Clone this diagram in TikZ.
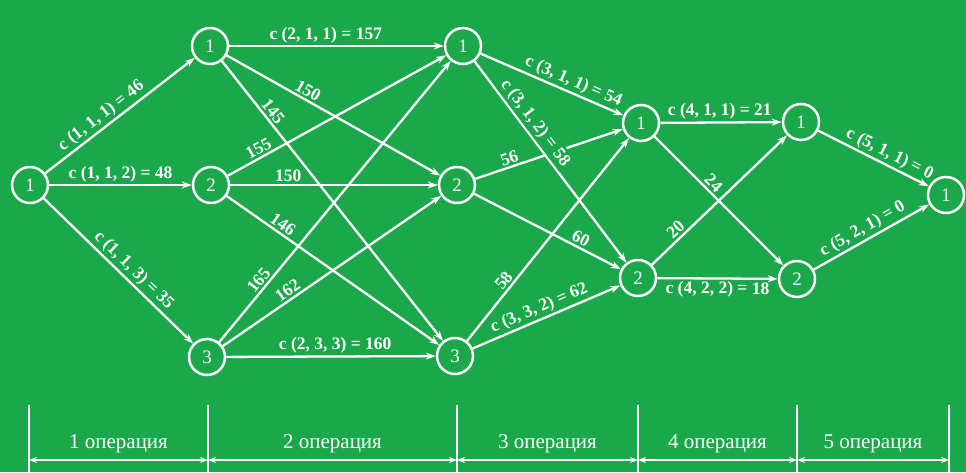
\documentclass[tikz,border=0pt]{standalone}
\usepackage{fontspec}
\setmainfont{Liberation Serif}
\usetikzlibrary{arrows.meta}
\definecolor{bg}{RGB}{26,168,74}
\begin{document}
\begin{tikzpicture}[x=1pt,y=1pt,
  vert/.style={circle,draw=white,line width=2.5pt,minimum size=36pt,inner sep=0pt,text=white,font=\fontsize{19}{19}\selectfont},
  edge/.style={draw=white,line width=2.3pt,-{Stealth[length=10pt,width=7pt]}},
  lab/.style={text=white,font=\bfseries\fontsize{17.5}{17.5}\selectfont,sloped,inner sep=2pt},
  tick/.style={draw=white,line width=2.3pt},
  dim/.style={draw=white,line width=2pt,{Stealth[length=8pt,width=6pt]}-{Stealth[length=8pt,width=6pt]}},
  oplab/.style={text=white,font=\fontsize{21}{21}\selectfont}
]
\fill[bg] (0,0) rectangle (966,472);
\useasboundingbox (0,0) rectangle (966,472);

% nodes
\node[vert] (S)  at (30,287) {1};
\node[vert] (A1) at (210,426) {1};
\node[vert] (A2) at (211,287) {2};
\node[vert] (A3) at (207,115) {3};
\node[vert] (B1) at (463,426) {1};
\node[vert] (B2) at (457,287) {2};
\node[vert] (B3) at (455,116) {3};
\node[vert] (C1) at (641,349) {1};
\node[vert] (C2) at (638,194) {2};
\node[vert] (D1) at (801,350) {1};
\node[vert] (D2) at (797,193) {2};
\node[vert] (E1) at (946,277) {1};

% stage 1
\draw[edge] (S) -- node[lab,above,pos=0.42]{c (1, 1, 1) = 46} (A1);
\draw[edge] (S) -- node[lab,above,pos=0.5]{c (1, 1, 2) = 48} (A2);
\draw[edge] (S) -- node[lab,above,pos=0.55]{c (1, 1, 3) = 35} (A3);

% stage 2
\draw[edge] (A1) -- node[lab,above,pos=0.45]{c (2, 1, 1) = 157} (B1);
\draw[edge] (A1) -- node[lab,above,pos=0.36]{150} (B2);
\draw[edge] (A1) -- node[lab,above,pos=0.2]{145} (B3);
\draw[edge] (A2) -- node[lab,above,pos=0.16]{155} (B1);
\draw[edge] (A2) -- node[lab,above,pos=0.28]{150} (B2);
\draw[edge] (A2) -- node[lab,above,pos=0.24]{146} (B3);
\draw[edge] (A3) -- node[lab,above,pos=0.2]{165} (B1);
\draw[edge] (A3) -- node[lab,above,pos=0.32]{162} (B2);
\draw[edge] (A3) -- node[lab,above,pos=0.52]{c (2, 3, 3) = 160} (B3);

% stage 3
\draw[edge] (B2) -- node[lab,above,pos=0.25]{56} (C1);
\draw[edge] (B1) -- node[lab,above,pos=0.62]{c (3, 1, 1) = 54} (C1);
\draw[edge] (B1) -- node[lab,above,pos=0.34,fill=bg]{c (3, 1, 2) = 58} (C2);
\draw[edge] (B2) -- node[lab,above,pos=0.7]{60} (C2);
\draw[edge] (B3) -- node[lab,above,pos=0.27]{58} (C1);
\draw[edge] (B3) -- node[lab,above,pos=0.48]{c (3, 3, 2) = 62} (C2);

% stage 4
\draw[edge] (C1) -- node[lab,above,pos=0.49]{c (4, 1, 1) = 21} (D1);
\draw[edge] (C1) -- node[lab,above,pos=0.41]{24} (D2);
\draw[edge] (C2) -- node[lab,above,pos=0.22]{20} (D1);
\draw[edge] (C2) -- node[lab,below,pos=0.5]{c (4, 2, 2) = 18} (D2);

% stage 5
\draw[edge] (D1) -- node[lab,above,pos=0.6]{c (5, 1, 1) = 0} (E1);
\draw[edge] (D2) -- node[lab,above,pos=0.47]{c (5, 2, 1) = 0} (E1);

% operations scale
\foreach \i/\x in {0/29,1/208,2/457,3/638,4/797,5/949}{
  \coordinate (t\i) at (\x,67);
  \coordinate (b\i) at (\x,0);
  \coordinate (m\i) at (\x,12);
  \draw[tick] (t\i) -- (b\i);
}
\draw[dim] (m0) -- node[oplab,above=3pt]{1 операция} (m1);
\draw[dim] (m1) -- node[oplab,above=3pt]{2 операция} (m2);
\draw[dim] (m2) -- node[oplab,above=3pt]{3 операция} (m3);
\draw[dim] (m3) -- node[oplab,above=3pt]{4 операция} (m4);
\draw[dim] (m4) -- node[oplab,above=3pt]{5 операция} (m5);
\end{tikzpicture}
\end{document}
